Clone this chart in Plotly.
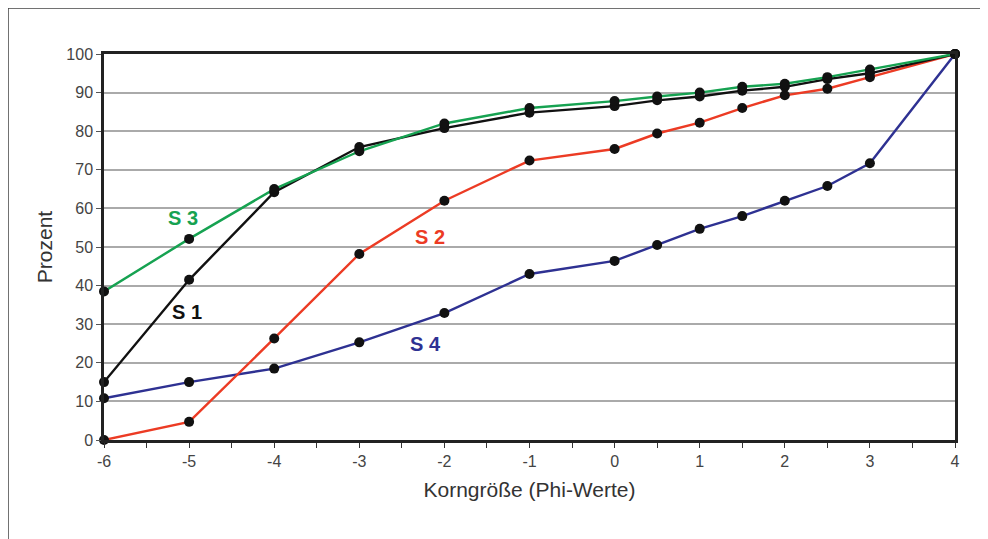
import plotly.graph_objects as go

phi = [-6, -5, -4, -3, -2, -1, 0, 0.5, 1, 1.5, 2, 2.5, 3, 4]

s1 = [15, 41.5, 64.2, 75.9, 80.8, 84.8, 86.5, 88, 89, 90.5, 91.5, 93.5, 95, 100]
s2 = [0, 4.7, 26.3, 48.2, 62, 72.4, 75.4, 79.4, 82.2, 86, 89.3, 91, 94, 100]
s3 = [38.5, 52.1, 65, 74.8, 82, 86, 87.8, 89, 90, 91.5, 92.3, 94, 96, 100]
s4 = [10.8, 15, 18.5, 25.3, 32.9, 43, 46.4, 50.5, 54.7, 58, 62, 65.8, 71.7, 100]

x_tick_vals = [-6, -5, -4, -3, -2, -1, 0, 1, 2, 3, 4]
x_tick_text = ["-6", "-5", "-4", "-3", "-2", "-1", "0", "1", "2", "3", "4"]

series_names = ["S 4", "S 2", "S 1", "S 3"]
series_values = [s4, s2, s1, s3]
series_colors = ["#2e3192", "#ec3b24", "#111111", "#16a251"]

label_x = [-2.22, -2.17, -5.03, -5.07]
label_y = [25.0, 52.6, 33.2, 57.6]

fig = go.Figure()

for name, vals, col in zip(series_names, series_values, series_colors):
    fig.add_trace(go.Scatter(x=phi, y=vals, mode="lines", name=name,
                             line=dict(color=col, width=2.4), showlegend=False,
                             hoverinfo="skip"))

for name, vals in zip(series_names, series_values):
    fig.add_trace(go.Scatter(x=phi, y=vals, mode="markers", name=name,
                             marker=dict(color="#111111", size=10), showlegend=False,
                             cliponaxis=False))

for name, col, lx, ly in zip(series_names, series_colors, label_x, label_y):
    fig.add_annotation(x=lx, y=ly, text="<b>" + name + "</b>", showarrow=False,
                       font=dict(family="Liberation Sans, Arial", size=20, color=col))

# outer frame (figure starts 8px into the page)
fig.add_shape(type="rect", xref="paper", yref="paper",
              x0=-0.1128, y0=-0.30, x1=1.10, y1=1.1192,
              line=dict(color="#444444", width=1.5), layer="below")

fig.update_layout(
    width=980, height=531,
    margin=dict(l=96, r=33, t=46, b=99),
    paper_bgcolor="white", plot_bgcolor="white",
    font=dict(family="Liberation Sans, Arial", size=16, color="#333333"),
)

fig.update_xaxes(
    range=[-6, 4], tickmode="array", tickvals=x_tick_vals, ticktext=x_tick_text,
    ticks="outside", ticklen=5, tickwidth=1.2, tickcolor="#333333",
    minor=dict(dtick=0.5, tick0=-6, ticks="outside", ticklen=5, tickwidth=1.2,
               tickcolor="#333333", showgrid=False),
    showgrid=False, zeroline=False,
    showline=True, linecolor="#222222", linewidth=2.5, mirror=True,
    title=dict(text="Korngröße (Phi-Werte)", font=dict(size=21, color="#333333"), standoff=14),
    tickfont=dict(size=16, color="#444444"),
)

fig.update_yaxes(
    range=[0, 100], tickmode="linear", tick0=0, dtick=10,
    ticks="outside", ticklen=5, tickwidth=1.2, tickcolor="#555555",
    showgrid=True, gridcolor="#aaaaaa", gridwidth=1.5, zeroline=False,
    showline=True, linecolor="#222222", linewidth=2.5, mirror=True,
    title=dict(text="Prozent", font=dict(size=21, color="#333333"), standoff=8),
    tickfont=dict(size=16, color="#444444"),
)

fig.write_html("out.html")
